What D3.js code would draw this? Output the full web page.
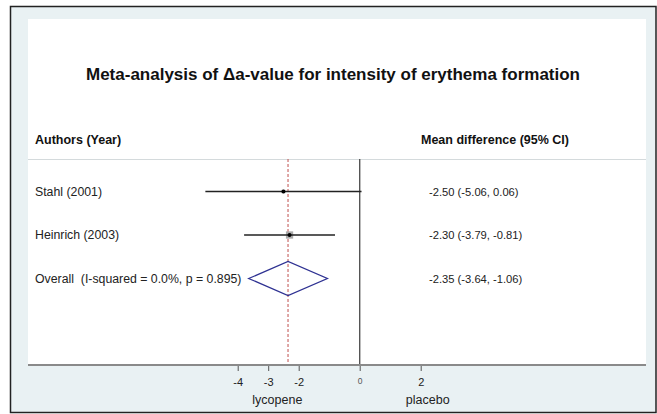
<!DOCTYPE html>
<html>
<head>
<meta charset="utf-8">
<script src="https://cdn.jsdelivr.net/npm/d3@7"></script>
<style>
  body { margin: 0; background: #fff; }
  svg { display: block; font-family: "Liberation Sans", Arial, sans-serif; }
</style>
</head>
<body>
<div id="chart"></div>
<script>
// study rows
const studies = ["Stahl (2001)", "Heinrich (2003)"];
const estimates = [-2.50, -2.30];
const lowerCI = [-5.06, -3.79];
const upperCI = [0.06, -0.81];
const weights = [0.7, 1.45];
const ciLabels = ["-2.50 (-5.06, 0.06)", "-2.30 (-3.79, -0.81)"];

// pooled estimate
const overallLabel = "Overall  (I-squared = 0.0%, p = 0.895)";
const overall = { est: -2.35, lo: -3.64, hi: -1.06 };
const overallCI = "-2.35 (-3.64, -1.06)";

const tickValues = [-4, -3, -2, 0, 2];
const sideLabels = ["lycopene", "placebo"];

const W = 657, H = 414;
const panel = { left: 28, right: 646, top: 19, bottom: 365 };

const svg = d3.select("#chart").append("svg")
  .attr("width", W).attr("height", H);

// outer frame + background
svg.append("rect").attr("x", 10.5).attr("y", 6.5).attr("width", 645.5).attr("height", 406)
  .attr("fill", "#e9f1f3").attr("stroke", "#222").attr("stroke-width", 1.5);
svg.append("rect").attr("x", panel.left).attr("y", panel.top)
  .attr("width", panel.right - panel.left).attr("height", panel.bottom - panel.top)
  .attr("fill", "#fff");

// x scale (effect size)
const x = d3.scaleLinear().domain([-4, 2]).range([237.7, 420.7]);

// row positions
const rows = studies.concat([overallLabel]);
const y = d3.scalePoint().domain(rows).range([191.5, 278.5]);

// title
svg.append("text").attr("x", 333).attr("y", 80).attr("text-anchor", "middle")
  .style("font-size", "17px").style("font-weight", "bold").attr("fill", "#111")
  .text("Meta-analysis of \u0394a-value for intensity of erythema formation");

// headers
svg.append("text").attr("x", 35).attr("y", 144)
  .style("font-size", "12.5px").style("font-weight", "bold").attr("fill", "#111")
  .text("Authors (Year)");
svg.append("text").attr("x", 421).attr("y", 144)
  .style("font-size", "12.5px").style("font-weight", "bold").attr("fill", "#111")
  .text("Mean difference (95% CI)");

svg.append("line").attr("x1", panel.left).attr("x2", panel.right)
  .attr("y1", 159.5).attr("y2", 159.5).attr("stroke", "#d4dadc").attr("stroke-width", 1);

// null line
svg.append("line").attr("x1", x(0)).attr("x2", x(0))
  .attr("y1", 159).attr("y2", panel.bottom).attr("stroke", "#555").attr("stroke-width", 1.4);

// pooled estimate dashed line
svg.append("line").attr("x1", x(overall.est)).attr("x2", x(overall.est))
  .attr("y1", 159).attr("y2", panel.bottom)
  .attr("stroke", "#c0504d").attr("stroke-width", 1).attr("stroke-dasharray", "3,2");

// study labels and CI text
svg.selectAll(".lbl").data(rows).enter().append("text")
  .attr("class", "lbl").attr("x", 35).attr("y", d => y(d) + 4)
  .style("font-size", "12.3px").style("white-space", "pre").attr("fill", "#222").text(d => d);

svg.selectAll(".ci").data(ciLabels.concat([overallCI])).enter().append("text")
  .attr("class", "ci").attr("x", 429).attr("y", (d, i) => y(rows[i]) + 4)
  .style("font-size", "11.2px").attr("fill", "#222").text(d => d);

// weight boxes
svg.selectAll(".box").data(studies).enter().append("rect")
  .attr("x", (d, i) => x(estimates[i]) - 2.5 * weights[i])
  .attr("y", (d, i) => y(d) - 2.5 * weights[i])
  .attr("width", (d, i) => 5 * weights[i]).attr("height", (d, i) => 5 * weights[i])
  .attr("fill", "#aaa");

// CI lines
svg.selectAll(".whisk").data(studies).enter().append("line")
  .attr("x1", (d, i) => x(lowerCI[i])).attr("x2", (d, i) => x(upperCI[i]))
  .attr("y1", d => y(d)).attr("y2", d => y(d))
  .attr("stroke", "#222").attr("stroke-width", 1.3);

svg.selectAll(".pt").data(studies).enter().append("circle")
  .attr("cx", (d, i) => x(estimates[i])).attr("cy", d => y(d)).attr("r", 2)
  .attr("fill", "#000");

// overall diamond
const oy = y(overallLabel);
svg.append("path")
  .attr("d", `M${x(overall.lo)},${oy} L${x(overall.est)},${oy - 17} L${x(overall.hi)},${oy} L${x(overall.est)},${oy + 17} Z`)
  .attr("fill", "none").attr("stroke", "#2e3192").attr("stroke-width", 1.3);

// axis line across panel
svg.append("line").attr("x1", panel.left).attr("x2", panel.right)
  .attr("y1", panel.bottom).attr("y2", panel.bottom)
  .attr("stroke", "#8a8a8a").attr("stroke-width", 2);

const axis = svg.append("g").attr("transform", `translate(0,${panel.bottom + 1})`)
  .call(d3.axisBottom(x).tickValues(tickValues).tickSize(5).tickPadding(7).tickFormat(d => String(d)));
axis.select(".domain").remove();
axis.selectAll(".tick line").attr("stroke", "#555");
axis.selectAll(".tick text").style("font-size", "11px").attr("fill", "#222")
  .style("font-family", "Liberation Sans, Arial, sans-serif");
axis.selectAll(".tick text").filter(d => d === 0).style("font-size", "8.5px").attr("fill", "#555");

// direction labels
svg.selectAll(".side").data(sideLabels).enter().append("text")
  .attr("x", (d, i) => i === 0 ? x(-2.7) : x(2) + 7)
  .attr("y", 404).attr("text-anchor", "middle")
  .style("font-size", "12.5px").attr("fill", "#222").text(d => d);
</script>
</body>
</html>
